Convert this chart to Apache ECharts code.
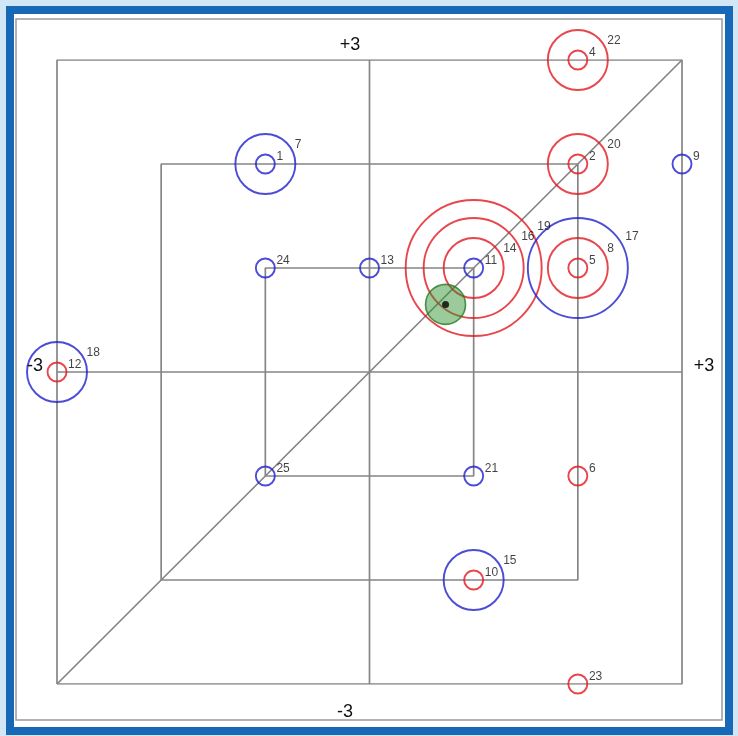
<!DOCTYPE html>
<html>
<head>
<meta charset="utf-8">
<script src="https://cdn.jsdelivr.net/npm/echarts@6/dist/echarts.min.js"></script>
<style>
  body { margin: 0; background: #d2e7f6; }
  #chart { width: 738px; height: 736px; }
</style>
</head>
<body>
<div id="chart"></div>
<script>
// marker number, position, group (A = red, B = blue), ring level (0 = small dot)
const markerIds = [1, 7, 2, 20, 4, 22, 9, 24, 13, 11, 14, 16, 19, 5, 8, 17, 12, 18, 25, 21, 6, 10, 15, 23];
const markerX   = [-1, -1, 2, 2, 2, 2, 3, -1, 0, 1, 1, 1, 1, 2, 2, 2, -3, -3, -1, 1, 2, 1, 1, 2];
const markerY   = [2, 2, 2, 2, 3, 3, 2, 1, 1, 1, 1, 1, 1, 1, 1, 1, 0, 0, -1, -1, -1, -2, -2, -3];
const markerGrp = ['B', 'B', 'A', 'A', 'A', 'A', 'B', 'B', 'B', 'B', 'A', 'A', 'A', 'A', 'A', 'B', 'A', 'B', 'B', 'B', 'A', 'A', 'B', 'A'];
const markerLvl = [0, 1, 0, 1, 0, 1, 0, 0, 0, 0, 1, 2, 3, 0, 1, 2, 0, 1, 0, 0, 0, 0, 1, 0];
const focusPoint = [0.73, 0.65];
const squareHalf = [3, 2, 1];
const tickLabels = ['-3', '+3'];

const ringRadius = [9.5, 30, 50, 68];
const groupColor = { A: '#e3171f', B: '#1f1fcc' };
const lineGray = '#858585';

let chart = echarts.init(document.getElementById('chart'));

function lineSeries(pts) {
  return {
    type: 'line', data: pts, symbol: 'none', silent: true, z: 1,
    lineStyle: { color: lineGray, width: 1.7 }
  };
}

let series = [];
squareHalf.forEach(h => {
  series.push(lineSeries([[-h, -h], [-h, h], [h, h], [h, -h], [-h, -h]]));
});
series.push(lineSeries([[0, -3], [0, 3]]));
series.push(lineSeries([[-3, 0], [3, 0]]));
series.push(lineSeries([[-3, -3], [3, 3]]));

let markers = markerIds.map((id, i) => {
  let r = ringRadius[markerLvl[i]];
  return {
    value: [markerX[i], markerY[i]],
    symbolSize: r * 2,
    itemStyle: { color: 'rgba(0,0,0,0)', borderColor: groupColor[markerGrp[i]], borderWidth: 1.9 },
    label: {
      show: true, formatter: String(id), position: 'inside',
      align: 'left', verticalAlign: 'middle',
      offset: [r * 0.9 + 2.5, -r * 0.58 - 2],
      fontFamily: 'Arial', fontSize: 12, color: '#111'
    }
  };
});
series.push({ type: 'scatter', data: markers, z: 3 });

// the green point
series.push({
  type: 'scatter', z: 4, symbolSize: 40,
  data: [focusPoint],
  itemStyle: { color: 'rgba(45,145,45,0.6)', borderColor: '#237a23', borderWidth: 1.6 }
});
series.push({
  type: 'scatter', z: 5, symbolSize: 7,
  data: [focusPoint],
  itemStyle: { color: '#000' }
});

function axisText(txt, x, y) {
  return {
    type: 'text', x: x, y: y, z: 10,
    style: { text: txt, fontFamily: 'Arial', fontSize: 18, fill: '#111', align: 'center', verticalAlign: 'middle' }
  };
}

chart.setOption({
  backgroundColor: '#d2e7f6',
  animation: false,
  grid: { left: 57, right: 56, top: 60, bottom: 52 },
  xAxis: { type: 'value', min: -3, max: 3, show: false },
  yAxis: { type: 'value', min: -3, max: 3, show: false },
  graphic: [
    { type: 'rect', z: -10, shape: { x: 10, y: 10, width: 719, height: 721 },
      style: { fill: '#ffffff', stroke: '#1769b8', lineWidth: 8 } },
    { type: 'rect', z: -9, shape: { x: 16, y: 19, width: 706, height: 701 },
      style: { fill: 'none', stroke: '#9a9a9a', lineWidth: 1.5 } },
    axisText(tickLabels[1], 350, 45),
    axisText(tickLabels[0], 345, 712),
    axisText(tickLabels[0], 35, 366),
    axisText(tickLabels[1], 704, 366)
  ],
  series: series
});
</script>
</body>
</html>
